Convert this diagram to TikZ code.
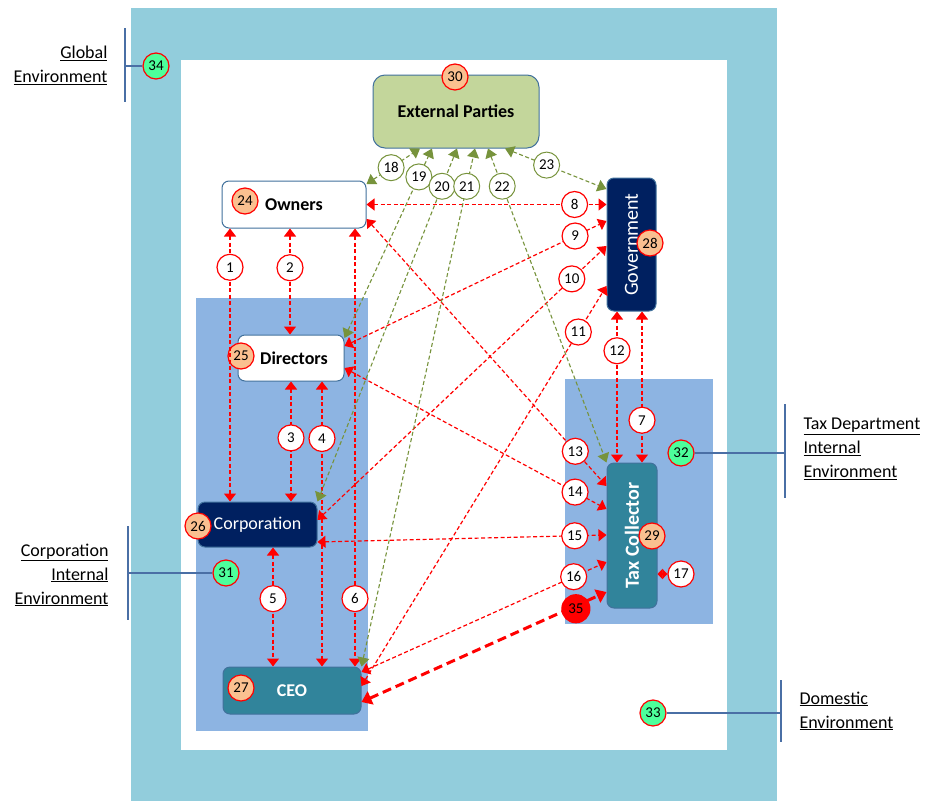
\documentclass[tikz,border=0pt]{standalone}
\usepackage{fontspec}
\setmainfont{Carlito}
\usetikzlibrary{arrows.meta}
\definecolor{frameteal}{HTML}{92CDDC}
\definecolor{envblue}{HTML}{8DB4E2}
\definecolor{navy}{HTML}{002060}
\definecolor{ceoteal}{HTML}{31849B}
\definecolor{extgreen}{HTML}{C3D69B}
\definecolor{olive}{HTML}{77933C}
\definecolor{tagorange}{HTML}{FAC090}
\definecolor{envgreen}{HTML}{4DFF9B}
\definecolor{edgeblue}{HTML}{41719C}
\definecolor{barblue}{HTML}{4A6FA5}
\newcommand{\bigtxt}{\fontsize{18}{24}\selectfont}

\begin{document}
\begin{tikzpicture}[x=1pt, y=-1pt,
	box/.style={draw=edgeblue, line width=1pt, rounded corners=7pt, font=\bigtxt\bfseries},
	tag/.style={circle, solid, draw=red, line width=1.2pt, fill=tagorange, text=black, inner sep=0pt, minimum size=26pt, font=\fontsize{15}{16}\selectfont},
	envtag/.style={tag, fill=envgreen},
	num/.style={tag, fill=white},
	gnum/.style={num, draw=olive, line width=1pt},
	rl/.style={red, line width=1.2pt, dash pattern=on 4pt off 2.5pt, {Triangle[width=12pt,length=8pt]}-{Triangle[width=12pt,length=8pt]}},
	gl/.style={olive, line width=1.1pt, dash pattern=on 4pt off 2.5pt, {Triangle[width=12pt,length=9pt]}-{Triangle[width=12pt,length=9pt]}},
	envtext/.style={font=\bigtxt},
	bar/.style={barblue, line width=1.2pt}]
				\useasboundingbox (0,0) rectangle (927,801);
				% environments
				\fill[frameteal] (131,8) rectangle (777,801);
				\fill[white] (181,60) rectangle (727,750);
				\fill[envblue] (196,298) rectangle (368,731);
				\fill[envblue] (565,379) rectangle (713,624);
				
				% boxes
				\node[box, fill=extgreen, rounded corners=12pt, minimum width=166pt, minimum height=73pt] (ext) at (456,111.5){External Parties};
				\node[box, fill=white, minimum width=144pt, minimum height=47pt] (owners) at (294,204.5){Owners};
				\node[box, fill=navy, minimum width=49pt, minimum height=133pt, label={[rotate=90, text=white, font=\fontsize{20}{24}\selectfont]center:Government}] (gov) at (631.5,244.5){};
				\node[box, fill=white, minimum width=106pt, minimum height=46pt] (dirs) at (291,358){\hspace{6pt}Directors};
				\node[box, fill=navy, text=white, font=\bigtxt, minimum width=119pt, minimum height=45pt] (corp) at (257.5,524.5){Corporation};
				\node[box, fill=ceoteal, text=white, minimum width=138pt, minimum height=47pt] (ceo) at (292,690.5){CEO};
				\node[box, fill=ceoteal, minimum width=50pt, minimum height=145pt, label={[rotate=90, text=white, font=\fontsize{20}{24}\selectfont\bfseries]center:Tax Collector}] (taxc) at (632,535.5){};
				
				\node[tag] (t24) at (245,201){24};
				\node[tag] (t25) at (241,356){25};
				\node[tag] (t26) at (198,526){26};
				\node[tag] (t27) at (241,688){27};
				\node[tag] (t28) at (650,243){28};
				\node[tag] (t29) at (652,536){29};
				\node[tag] (t30) at (455,77){30};
				
				% environment labels
				\node[envtext, anchor=east, align=right] (lglob) at (111,65){\underline{Global}\\\underline{Environment}};
				\node[envtext, anchor=east, align=right] (lcorp) at (112,575){\underline{Corporation}\\\underline{Internal}\\\underline{Environment}};
				\node[envtext, anchor=west, align=left] (ltax) at (800,449){\underline{Tax Department}\\\underline{Internal}\\\underline{Environment}};
				\node[envtext, anchor=west, align=left] (ldom) at (796,711){\underline{Domestic}\\\underline{Environment}};
				\draw[bar] (125,28) -- (125,102);
				\draw[bar] (128,526) -- (128,620);
				\draw[bar] (785,404) -- (785,498);
				\draw[bar] (781,680) -- (781,742);
				\coordinate (b34) at (125,66);
				\coordinate (b31) at (128,573);
				\coordinate (b32) at (785,453);
				\coordinate (b33) at (781,713);
				\node[envtag] (e34) at (156,66){34};
				\node[envtag] (e31) at (226,573){31};
				\node[envtag] (e32) at (681,453){32};
				\node[envtag] (e33) at (653,713){33};
				\draw[bar] (b34) -- (e34);
				\draw[bar] (b31) -- (e31);
				\draw[bar] (e32) -- (b32);
				\draw[bar] (e33) -- (b33);
				
				% red links
				\draw[rl] (owners.south -| 230,0) -- (corp.north -| 230,0) node[num, pos=.142] (n1){1};
				\draw[rl] (owners.south -| 290,0) -- (dirs.north -| 290,0) node[num, pos=.37] (n2){2};
				\draw[rl] (dirs.south -| 291,0) -- (corp.north -| 291,0) node[num, pos=.47] (n3){3};
				\draw[rl] (dirs.south -| 322,0) -- (ceo.north -| 322,0) node[num, pos=.2] (n4){4};
				\draw[rl] (corp.south -| 273,0) -- (ceo.north -| 273,0) node[num, pos=.43] (n5){5};
				\draw[rl] (owners.south -| 355,0) -- (ceo.north -| 355,0) node[num, pos=.845] (n6){6};
				\draw[rl] (gov.south -| 642,0) -- (taxc.north -| 642,0) node[num, pos=.72] (n7){7};
				\draw[rl] (owners.east) -- (gov.west |- owners.east) node[num, pos=.867] (n8){8};
				\draw[rl] (dirs.east |- 0,346) -- (gov.west |- 0,221) node[num, pos=.88] (n9){9};
				\draw[rl] (corp.east |- 0,520) -- (gov.west |- 0,246) node[num, pos=.88] (n10){10};
				\draw[rl] (ceo.east |- 0,686) -- (gov.west |- 0,286) node[num, pos=.885] (n11){11};
				\draw[rl] (gov.south -| 617,0) -- (taxc.north -| 617,0) node[num, pos=.26] (n12){12};
				\draw[rl] (owners.east |- 0,219) -- (taxc.west |- 0,486) node[num, pos=.87] (n13){13};
				\draw[rl] (dirs.east |- 0,368) -- (taxc.west |- 0,509) node[num, pos=.88] (n14){14};
				\draw[rl] (corp.east |- 0,542) -- (taxc.west |- 0,535) node[num, pos=.89] (n15){15};
				\draw[rl] (ceo.east |- 0,672) -- (taxc.west |- 0,562) node[num, pos=.866] (n16){16};
				\node[num] (n17) at (681,574){17};
				\draw[rl, {Triangle[width=10pt,length=5pt]}-{Triangle[width=10pt,length=5pt]}] (taxc.east |- n17) -- (n17);
				
				% green links
				\draw[gl] (owners.east |- 0,184) -- (ext.south -| 420,0) node[gnum, pos=.46] (n18){18};
				\draw[gl] (dirs.east |- 0,338) -- (ext.south -| 432,0) node[gnum, pos=.85] (n19){19};
				\draw[gl] (corp.north east) -- (ext.south -| 457,0) node[gnum, pos=.893] (n20){20};
				\draw[gl] (ceo.north east) -- (ext.south -| 475,0) node[gnum, pos=.927] (n21){21};
				\draw[gl] (ext.south -| 488,0) -- (taxc.north west) node[gnum, pos=.12] (n22){22};
				\draw[gl] (ext.south -| 505,0) -- (gov.west |- 0,189) node[gnum, pos=.41] (n23){23};
				
				% ceo to tax collector
				\draw[red, line width=3pt, dash pattern=on 9pt off 5pt, {Triangle[width=14pt,length=10pt]}-{Triangle[width=14pt,length=10pt]}] (ceo.east |- 0,702) -- (taxc.west |- 0,592) node[tag, fill=red, minimum size=28pt, pos=.875, yshift=-3pt] (t35){35};
				\end{tikzpicture}
\end{document}
